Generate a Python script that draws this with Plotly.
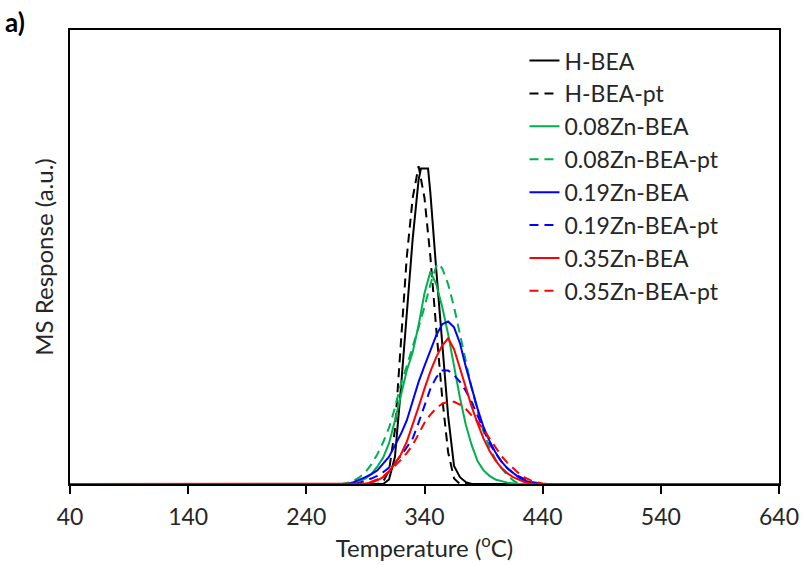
import plotly.graph_objects as go

# ---------------- data ----------------
names = ["H-BEA", "H-BEA-pt", "0.08Zn-BEA", "0.08Zn-BEA-pt",
         "0.19Zn-BEA", "0.19Zn-BEA-pt", "0.35Zn-BEA", "0.35Zn-BEA-pt"]

h_bea_T = [40, 305, 310, 315, 320, 325, 330, 335, 337, 343, 345, 350, 355, 360, 365, 370, 375, 380, 640]
h_bea_y = [0, 0, 0.01, 0.06, 0.21, 0.38, 0.54, 0.67, 0.695, 0.695, 0.64, 0.47, 0.31, 0.15, 0.04, 0.015, 0.004, 0, 0]

h_bea_pt_T = [40, 300, 305, 310, 315, 320, 325, 330, 335, 340, 345, 350, 355, 360, 365, 370, 640]
h_bea_pt_y = [0, 0, 0.005, 0.03, 0.12, 0.31, 0.5, 0.63, 0.70, 0.63, 0.5, 0.34, 0.19, 0.07, 0.012, 0, 0]

zn08_T = [40, 275, 280, 285, 290, 295, 300, 305, 310, 315, 320, 325, 330, 335, 340, 345,
          350, 355, 360, 365, 370, 375, 380, 385, 390, 395, 400, 410, 420, 640]
zn08_y = [0, 0, 0.003, 0.007, 0.012, 0.022, 0.038, 0.058, 0.09, 0.14, 0.195, 0.25, 0.29, 0.35, 0.42, 0.468,
          0.44, 0.39, 0.33, 0.26, 0.19, 0.13, 0.085, 0.05, 0.03, 0.018, 0.01, 0.003, 0, 0]

zn08_pt_T = [40, 270, 275, 280, 285, 290, 295, 300, 305, 310, 315, 320, 325, 330, 335, 340, 345,
             350, 352, 355, 360, 365, 370, 375, 380, 385, 390, 395, 400, 405, 410, 415, 420, 640]
zn08_pt_y = [0, 0, 0.003, 0.007, 0.015, 0.026, 0.043, 0.065, 0.092, 0.124, 0.168, 0.22, 0.26, 0.30, 0.345, 0.39, 0.44,
             0.48, 0.486, 0.475, 0.44, 0.39, 0.33, 0.27, 0.21, 0.16, 0.115, 0.08, 0.055, 0.035, 0.02, 0.008, 0, 0]

zn19_T = [40, 275, 280, 285, 290, 295, 300, 305, 310, 315, 320, 325, 330, 335, 340, 345, 350, 355,
          360, 365, 370, 375, 380, 385, 390, 395, 400, 405, 410, 415, 420, 425, 430, 435, 640]
zn19_y = [0, 0, 0.004, 0.009, 0.015, 0.022, 0.03, 0.045, 0.06, 0.085, 0.11, 0.14, 0.185, 0.225, 0.26, 0.295, 0.328, 0.352,
          0.358, 0.345, 0.31, 0.258, 0.21, 0.165, 0.125, 0.095, 0.07, 0.05, 0.035, 0.024, 0.014, 0.007, 0.003, 0, 0]

zn19_pt_T = [40, 280, 285, 290, 295, 300, 305, 310, 315, 320, 325, 330, 335, 340, 345, 350, 355,
             360, 365, 370, 375, 380, 385, 390, 395, 400, 405, 410, 415, 420, 425, 430, 435, 440, 640]
zn19_pt_y = [0, 0, 0.003, 0.007, 0.012, 0.018, 0.026, 0.036, 0.047, 0.062, 0.08, 0.1, 0.135, 0.175, 0.21, 0.235, 0.25,
             0.25, 0.24, 0.225, 0.205, 0.18, 0.15, 0.12, 0.09, 0.068, 0.05, 0.035, 0.024, 0.017, 0.01, 0.005, 0.002, 0, 0]

zn35_T = [40, 285, 290, 295, 300, 305, 310, 315, 320, 325, 330, 335, 340, 345, 350, 355,
          360, 365, 370, 375, 380, 385, 390, 395, 400, 405, 410, 415, 420, 425, 430, 435, 640]
zn35_y = [0, 0, 0.001, 0.003, 0.008, 0.015, 0.028, 0.045, 0.065, 0.093, 0.13, 0.17, 0.21, 0.248, 0.28, 0.305,
          0.321, 0.297, 0.255, 0.21, 0.17, 0.133, 0.1, 0.073, 0.052, 0.036, 0.024, 0.015, 0.009, 0.004, 0.001, 0, 0]

zn35_pt_T = [40, 285, 290, 295, 300, 305, 310, 315, 320, 325, 330, 335, 340, 345, 350, 355,
             360, 365, 370, 375, 380, 385, 390, 395, 400, 405, 410, 415, 420, 425, 430, 435, 440, 445, 640]
zn35_pt_y = [0, 0, 0.002, 0.005, 0.01, 0.017, 0.027, 0.039, 0.053, 0.068, 0.086, 0.11, 0.135, 0.153, 0.167, 0.177,
             0.181, 0.181, 0.175, 0.165, 0.152, 0.137, 0.12, 0.1, 0.08, 0.062, 0.047, 0.034, 0.023, 0.014, 0.008, 0.004, 0.001, 0, 0]

x_ticks = [40, 140, 240, 340, 440, 540, 640]

series_T = [h_bea_T, h_bea_pt_T, zn08_T, zn08_pt_T, zn19_T, zn19_pt_T, zn35_T, zn35_pt_T]
series_y = [h_bea_y, h_bea_pt_y, zn08_y, zn08_pt_y, zn19_y, zn19_pt_y, zn35_y, zn35_pt_y]
colors = ["#000000", "#000000", "#00B050", "#00B050", "#0000FF", "#0000FF", "#FF0000", "#FF0000"]
dashes = ["solid", "9px,6px", "solid", "9px,6px", "solid", "9px,6px", "solid", "9px,6px"]

FONT = "Lato"
TXT = "#262626"

fig = go.Figure()
for i, (nm, T, y) in enumerate(zip(names, series_T, series_y)):
    fig.add_trace(go.Scatter(
        x=T, y=y, mode="lines", name=nm,
        line=dict(color=colors[i], width=2, dash=dashes[i]),
    ))

fig.update_layout(
    width=803, height=565,
    margin=dict(l=70, r=24, t=30, b=81),
    paper_bgcolor="white", plot_bgcolor="white",
    font=dict(family=FONT, color=TXT),
    showlegend=True,
    legend=dict(
        x=0.641, y=0.98, xanchor="left", yanchor="top",
        bgcolor="rgba(0,0,0,0)", font=dict(size=23, family=FONT, color=TXT),
    ),
    xaxis=dict(
        range=[40, 640], tickmode="array", tickvals=x_ticks, automargin=False,
        ticks="outside", ticklen=8, tickwidth=2, tickcolor="black", ticklabelstandoff=3,
        showline=True, linecolor="black", linewidth=2, mirror=True,
        showgrid=False, zeroline=False,
        tickfont=dict(size=23, family=FONT, color=TXT),
        title=dict(text="Temperature (<sup>o</sup>C)", font=dict(size=24, family=FONT, color=TXT), standoff=2),
    ),
    yaxis=dict(
        range=[0, 1], showticklabels=False, ticks="", automargin=False,
        showline=True, linecolor="black", linewidth=2, mirror=True,
        showgrid=False, zeroline=False,
        title=dict(text="MS Response (a.u.)", font=dict(size=24, family=FONT, color=TXT), standoff=8),
    ),
    annotations=[dict(
        text="<b>a)</b>", xref="paper", yref="paper", x=-0.094, y=1.018,
        xanchor="left", yanchor="middle", showarrow=False,
        font=dict(size=26, family=FONT, color="black"),
    )],
)

fig.write_html("out.html", config={"displayModeBar": False},
               post_script="document.body.style.margin='0';")
